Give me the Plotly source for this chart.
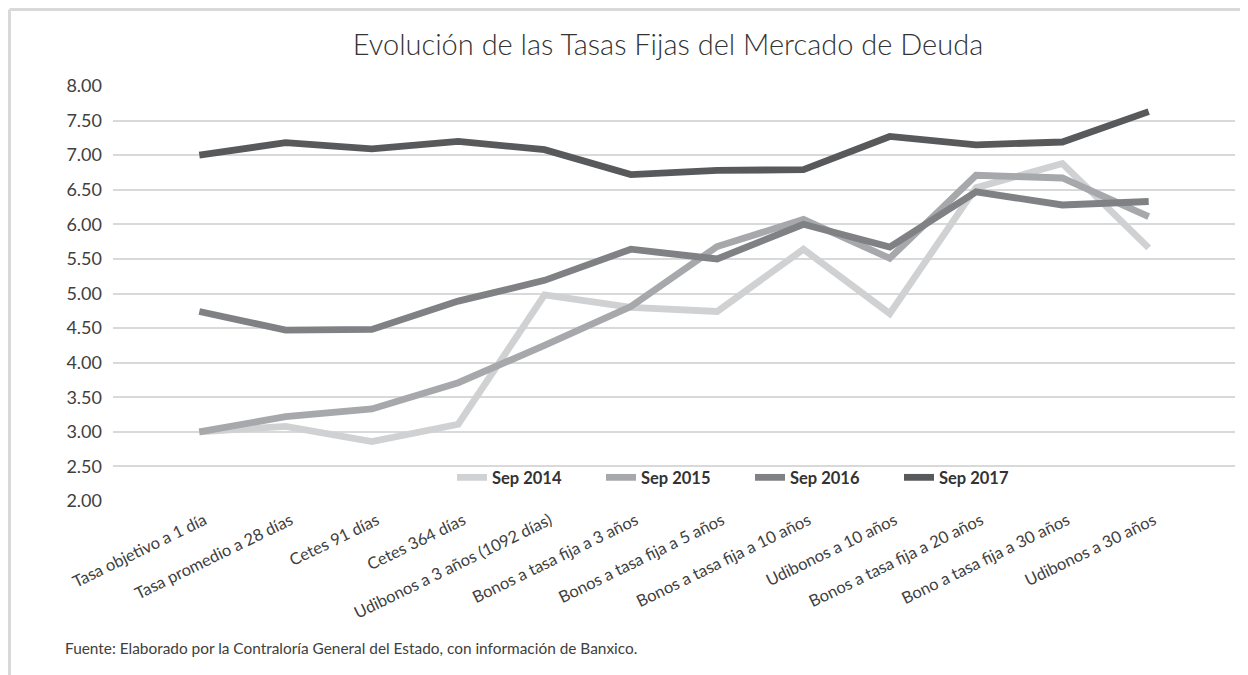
import plotly.graph_objects as go

categories = [
    "Tasa objetivo a 1 día",
    "Tasa promedio a 28 días",
    "Cetes 91 días",
    "Cetes 364 días",
    "Udibonos a 3 años (1092 días)",
    "Bonos a tasa fija a 3 años",
    "Bonos a tasa fija a 5 años",
    "Bonos a tasa fija a 10 años",
    "Udibonos a 10 años",
    "Bonos a tasa fija a 20 años",
    "Bono a tasa fija a 30 años",
    "Udibonos a 30 años",
]

sep_2014 = [3.00, 3.08, 2.86, 3.11, 4.98, 4.80, 4.74, 5.64, 4.71, 6.53, 6.88, 5.66]
sep_2015 = [3.00, 3.22, 3.33, 3.71, 4.25, 4.81, 5.68, 6.07, 5.51, 6.71, 6.67, 6.11]
sep_2016 = [4.74, 4.47, 4.48, 4.89, 5.19, 5.64, 5.50, 6.00, 5.67, 6.47, 6.28, 6.33]
sep_2017 = [7.00, 7.18, 7.09, 7.20, 7.08, 6.72, 6.78, 6.79, 7.27, 7.15, 7.19, 7.63]

series_names = ["Sep 2014", "Sep 2015", "Sep 2016", "Sep 2017"]
series_values = [sep_2014, sep_2015, sep_2016, sep_2017]
series_colors = ["#d0d1d3", "#a7a8ab", "#808184", "#58595b"]

y_ticks = [2.0, 2.5, 3.0, 3.5, 4.0, 4.5, 5.0, 5.5, 6.0, 6.5, 7.0, 7.5, 8.0]

title_text = "Evolución de las Tasas Fijas del Mercado de Deuda"
source_text = "Fuente: Elaborado por la Contraloría General del Estado, con información de Banxico."

FONT = "Lato, 'Open Sans', sans-serif"
OFF = 8  # page body margin
W, H = 1240, 667
ML, MR, MT, MB = 105, 13, 78, 173.6
PW = W - ML - MR
PH = H - MT - MB

def px_to_paper_x(px):
    # px in page coordinates
    return (px - OFF - ML) / PW

def px_to_paper_y(py):
    return (H - MB - (py - OFF)) / PH

x_idx = list(range(len(categories)))

fig = go.Figure()
for name, vals, col in zip(series_names, series_values, series_colors):
    fig.add_trace(go.Scatter(
        x=x_idx, y=vals, mode="lines", name=name,
        line=dict(color=col, width=6.8),
        hoverinfo="skip",
    ))

fig.update_layout(
    width=W, height=H,
    margin=dict(l=ML, r=MR, t=MT, b=MB),
    paper_bgcolor="white",
    plot_bgcolor="white",
    font=dict(family=FONT, color="#404040"),
    title=dict(
        text=title_text,
        x=px_to_paper_x(668), xref="paper", xanchor="center",
        y=1 - (45 - OFF) / H, yref="container", yanchor="middle",
        font=dict(family=FONT, size=29, color="#333333", weight=300),
    ),
    xaxis=dict(
        range=[-1, 12],
        tickmode="array",
        tickvals=x_idx,
        ticktext=categories,
        tickangle=-26,
        showgrid=False,
        zeroline=False,
        showline=False,
        ticks="",
        ticklabelshift=5,
        ticklabelstandoff=6,
        tickfont=dict(family=FONT, size=16.5, color="#404040"),
    ),
    yaxis=dict(
        range=[2, 8],
        tickmode="array",
        tickvals=y_ticks,
        ticktext=[f"{v:.2f}" for v in y_ticks],
        showgrid=True,
        gridcolor="#d9d9d9",
        gridwidth=1.5,
        zeroline=False,
        showline=False,
        ticks="",
        ticklabelstandoff=10,
        tickfont=dict(family=FONT, size=18, color="#404040"),
    ),
    legend=dict(
        orientation="h",
        x=px_to_paper_x(452), xanchor="left",
        y=px_to_paper_y(478), yanchor="middle",
        bgcolor="rgba(0,0,0,0)",
        font=dict(family=FONT, size=16.5, color="#333333", weight="bold"),
        entrywidth=104,
        entrywidthmode="pixels",
        itemclick=False,
    ),
    showlegend=True,
    hovermode=False,
)

fig.add_annotation(
    text=source_text,
    xref="paper", yref="paper",
    x=px_to_paper_x(63), y=px_to_paper_y(649),
    xanchor="left", yanchor="middle",
    showarrow=False,
    font=dict(family=FONT, size=15.4, color="#404040"),
)

# chart frame (light grey border like the original chart area)
frame_color = "#d9d9d9"
fig.add_shape(type="line", xref="paper", yref="paper",
              x0=px_to_paper_x(9.5), x1=px_to_paper_x(1260),
              y0=px_to_paper_y(9.5), y1=px_to_paper_y(9.5),
              line=dict(color=frame_color, width=3), layer="below")
fig.add_shape(type="line", xref="paper", yref="paper",
              x0=px_to_paper_x(9.5), x1=px_to_paper_x(9.5),
              y0=px_to_paper_y(9.5), y1=px_to_paper_y(690),
              line=dict(color=frame_color, width=3), layer="below")

fig.write_html("out.html")
